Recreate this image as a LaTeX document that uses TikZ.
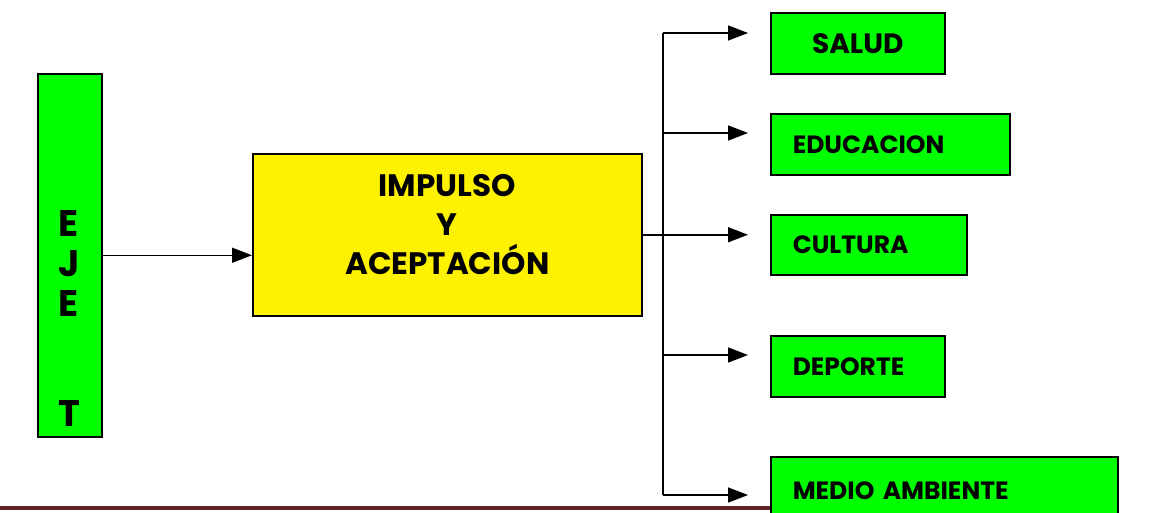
\documentclass[tikz,border=0pt]{standalone}
\usepackage{fontspec}
\setmainfont{Poppins}
\usetikzlibrary{positioning,arrows.meta}

\tikzset{
  box/.style={draw,line width=1.5pt,fill=green,anchor=north west,inner sep=0pt},
  itembox/.style={box,align=left,inner xsep=22pt,text width=#1,
    font=\bfseries\fontsize{25}{30}\selectfont},
  link/.style={line width=1.5pt,-{Triangle[length=20pt,width=15pt]}},
}

\begin{document}
\begin{tikzpicture}[x=1pt,y=-1pt]
\useasboundingbox (0,0) rectangle (1155,512);
\clip (0,0) rectangle (1155,512);
% left bar
\node[box,minimum width=64pt,minimum height=363pt] (eje) at (37,73) {};
\node[font=\bfseries\fontsize{37}{40}\selectfont,align=center,anchor=base,inner sep=0pt]
  (ejetext) at (69,426) {E\\J\\E\\[70pt]T};
% central box
\node[box,fill=yellow,minimum width=389pt,minimum height=162pt,text depth=20pt,
  font=\bfseries\fontsize{31}{39}\selectfont,align=center] (impulso) at (252,153)
  {IMPULSO\\Y\\ACEPTACIÓN};
% targets
\node[box,minimum width=174pt,minimum height=61pt,
  font=\bfseries\fontsize{28}{34}\selectfont] (salud) at (770,12) {SALUD};
\node[itembox=195pt,minimum height=61pt] (educacion) at (770,113) {EDUCACION};
\node[itembox=152pt,minimum height=60pt] (cultura) at (770,214) {CULTURA};
\node[itembox=130pt,minimum height=61pt] (deporte) at (770,335) {DEPORTE};
\node[itembox=303pt,minimum height=68pt] (medio) at (770,456) {MEDIO AMBIENTE};
\draw[line width=4pt,draw={rgb,255:red,98;green,34;blue,34}] (0,508) -- (medio.west |- 0,508);
% connectors
\coordinate (b1) at (663,33);
\coordinate (b2) at (663,133);
\coordinate (b4) at (663,355);
\coordinate (b5) at (663,495);
\draw[link] (eje.east) -- (eje.east -| impulso.west);
\draw[line width=1.5pt] (b1) -- (b5);
\draw[link,shorten >=22pt] (impulso.east) -- (impulso.east -| cultura.west);
\foreach \b/\t in {b1/salud,b2/educacion,b4/deporte,b5/medio}
  \draw[link,shorten >=22pt] (\b) -- (\b -| \t.west);
\end{tikzpicture}
\end{document}
